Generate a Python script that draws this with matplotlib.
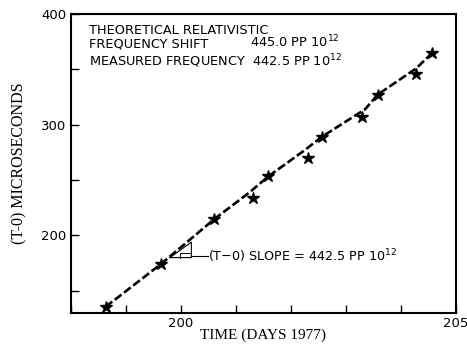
import matplotlib
matplotlib.use("Agg")
import matplotlib.pyplot as plt
from matplotlib.ticker import FixedLocator, FixedFormatter

# Data
days = [198.63, 199.64, 200.61, 201.31, 201.59, 202.31, 202.57, 203.30, 203.58, 204.28, 204.57]
t_minus_0 = [135.5, 174.3, 214.9, 233.6, 253.4, 270.0, 289.4, 306.7, 327.3, 346.0, 364.9]

# Dashed fit line vertices
line_x = [198.63, 199.64, 200.61, 201.25, 201.59, 202.25, 202.57, 203.35, 203.58, 204.28, 204.57]
line_y = [135.5, 174.3, 214.9, 239.0, 253.4, 277.0, 289.4, 314.0, 327.3, 351.0, 364.9]

# slope triangle
tri_x = [199.8, 200.19, 200.19, 199.8]
tri_y = [180.0, 180.0, 194.0, 180.0]

xticks = [198, 199, 200, 201, 202, 203, 204, 205]
xticklabels = ["", "", "200", "", "", "", "", "205"]
yticks = [150, 200, 250, 300, 350, 400]
yticklabels = ["", "200", "", "300", "", "400"]

fig = plt.figure(figsize=(4.67, 3.45), dpi=100)
ax = fig.add_axes([0.152, 0.093, 0.824, 0.866])

ax.plot(line_x, line_y, color="black", lw=1.9, linestyle=(0, (3.2, 1.2)))
ax.plot(days, t_minus_0, linestyle="none", marker="*", color="black", markersize=9)

ax.plot(tri_x, tri_y, color="black", lw=0.8)
ax.plot([199.98, 199.98, 200.19], [180.0, 184.0, 184.0], color="black", lw=0.7)
ax.plot([200.19, 200.5], [181.6, 181.6], color="black", lw=0.8)
ax.text(200.5, 177.0, "(T\u22120) SLOPE = 442.5 PP 10$^{12}$", fontsize=9.2, va="baseline")

ax.text(198.32, 381.8, "THEORETICAL RELATIVISTIC", fontsize=9.3, va="baseline")
ax.text(198.32, 369.7, "FREQUENCY SHIFT", fontsize=9.3, va="baseline")
ax.text(201.25, 369.7, "445.0 PP 10$^{12}$", fontsize=9.3, va="baseline")
ax.text(198.32, 353.0, "MEASURED FREQUENCY  442.5 PP 10$^{12}$", fontsize=9.3, va="baseline")

ax.set_xlim(198, 205)
ax.set_ylim(130, 400)
ax.xaxis.set_major_locator(FixedLocator(xticks))
ax.xaxis.set_major_formatter(FixedFormatter(xticklabels))
ax.yaxis.set_major_locator(FixedLocator(yticks))
ax.yaxis.set_major_formatter(FixedFormatter(yticklabels))
ax.tick_params(direction="in", length=6, width=1, labelsize=9.5, top=False, right=False)
ax.tick_params(axis="x", pad=3)

for s in ax.spines.values():
    s.set_linewidth(1.5)

ax.set_xlabel("TIME (DAYS 1977)", family="Liberation Serif", fontsize=11, labelpad=-1)
ax.set_ylabel("(T-0) MICROSECONDS", family="Liberation Serif", fontsize=11.5, labelpad=10)

fig.savefig("out.png", dpi=100)
